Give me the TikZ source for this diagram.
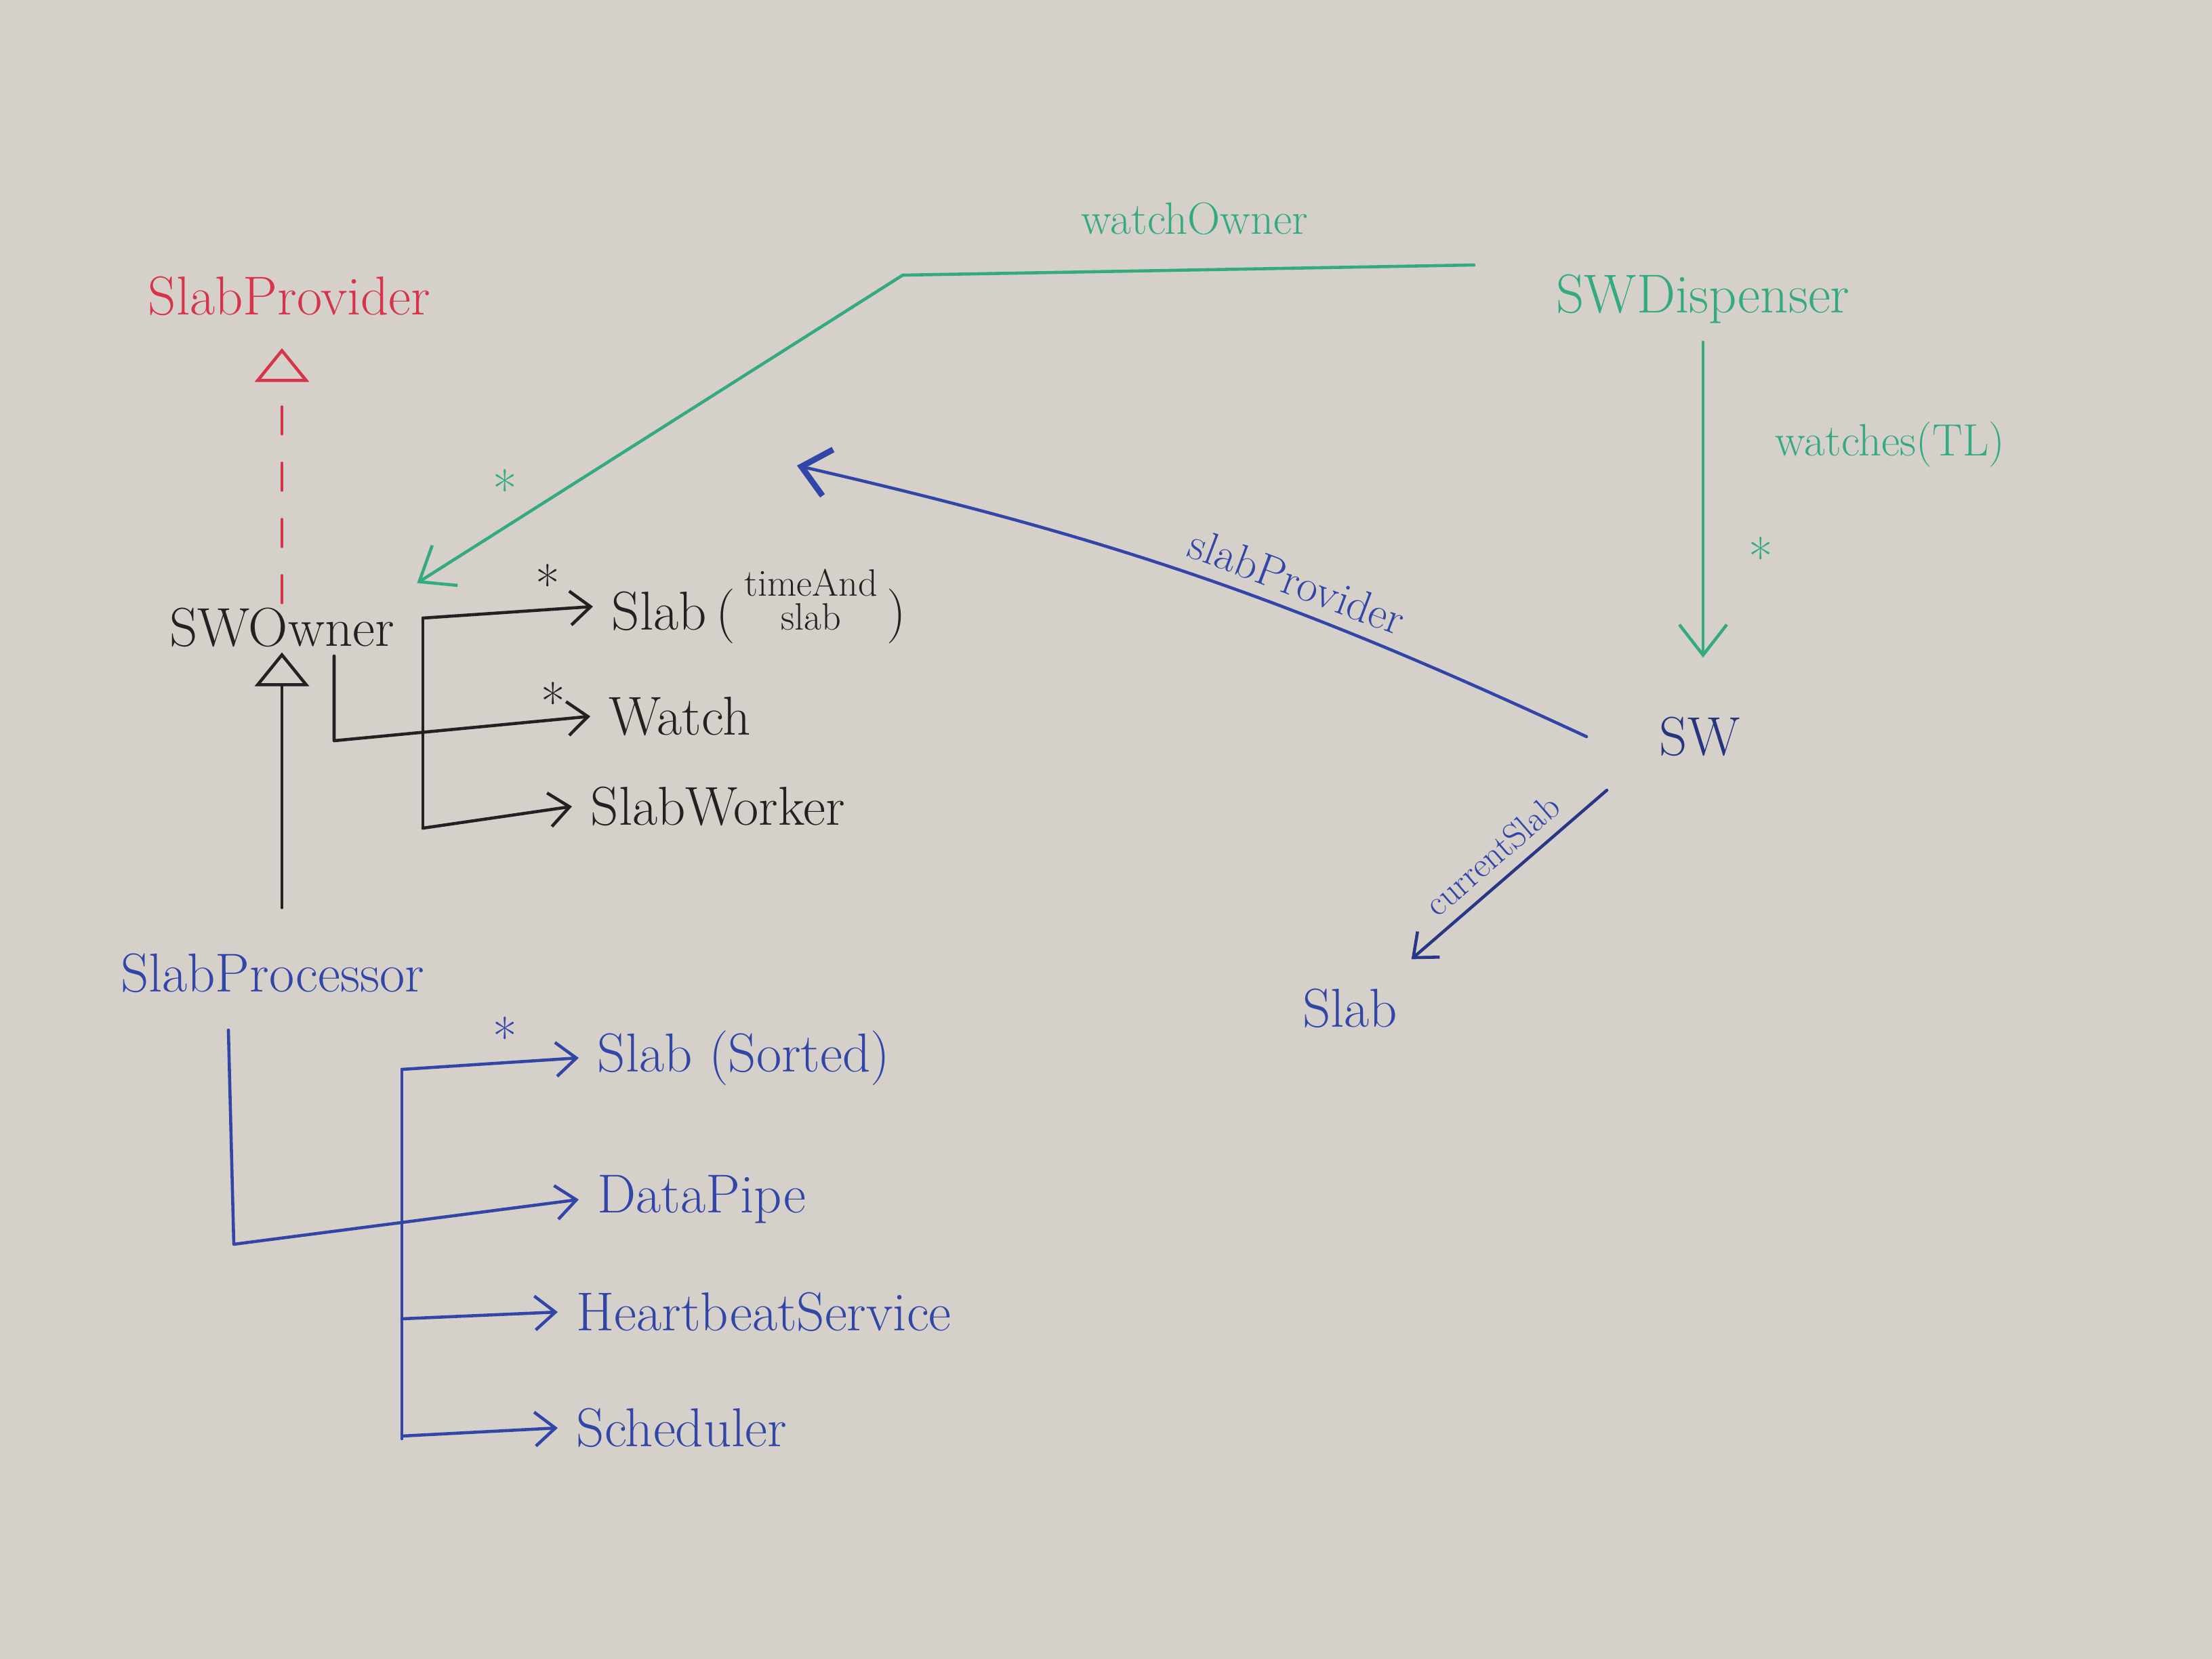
\documentclass[tikz,border=0pt]{standalone}
\usepackage{tikz}
\usetikzlibrary{arrows.meta}

\definecolor{board}{RGB}{214,208,202}
\definecolor{mgreen}{RGB}{52,170,128}
\definecolor{mred}{RGB}{214,52,74}
\definecolor{mblue}{RGB}{50,70,168}
\definecolor{mblack}{RGB}{34,34,34}

\tikzset{
  lbl/.style={font=\fontsize{23}{26}\selectfont, inner sep=2pt},
  midlbl/.style={font=\fontsize{19}{21}\selectfont, inner sep=2pt},
  smalllbl/.style={font=\fontsize{15}{17}\selectfont, inner sep=2pt},
  starmark/.style={font=\fontsize{22}{22}\selectfont, inner sep=0pt},
  pen/.style={line width=1.3pt, line cap=round, line join=round},
  barb/.style={-{Straight Barb[length=3mm,width=5mm]}},
  bigbarb/.style={-{Straight Barb[length=4.5mm,width=7mm]}},
  opentri/.style={-{Triangle[open,length=5mm,width=8mm]}}
}

\begin{document}
\begin{tikzpicture}
	\fill[board] (0,0) rectangle (32.64,-24.48);
	\useasboundingbox (0,0) rectangle (32.64,-24.48);

	% classes
	\node[lbl,mred] (prov) at (4.27,-4.37) {SlabProvider};
	\node[lbl,mblack] (own) at (4.16,-9.26) {SWOwner};
	\node[lbl,mblue] (proc) at (4.02,-14.36) {SlabProcessor};
	\node[lbl,mgreen] (disp) at (25.13,-4.41) {SWDispenser};
	\node[lbl,mblue!75!black] (sw) at (25.08,-10.87) {SW};
	\node[lbl,mblue] (slabB) at (19.92,-14.88) {Slab};

	% parts of SWOwner
	\node[lbl,mblack,anchor=west] (slabT) at (8.95,-8.95)
		{Slab\,(\,{\fontsize{16}{17}\selectfont\shortstack{timeAnd\\slab}}\,)};
	\node[lbl,mblack,anchor=west] (watch) at (8.91,-10.57) {Watch};
	\node[lbl,mblack,anchor=west] (worker) at (8.64,-11.90) {SlabWorker};

	% parts of SlabProcessor
	\node[lbl,mblue,anchor=west] (sorted) at (8.74,-15.61) {Slab (Sorted)};
	\node[lbl,mblue,anchor=west] (pipe) at (8.74,-17.70) {DataPipe};
	\node[lbl,mblue,anchor=west] (beat) at (8.43,-19.36) {HeartbeatService};
	\node[lbl,mblue,anchor=west] (sched) at (8.43,-21.07) {Scheduler};

	% inheritance
	\draw[pen,mred,opentri,dash pattern=on 4mm off 4.3mm]
		(own.north) -- ([yshift=-4mm]prov.south -| own.north);
	\draw[pen,mblack,opentri] ([yshift=6mm]proc.north -| own.south) -- (own.south);

	% SWOwner tree
	\coordinate (bT) at (6.24,-9.12);
	\coordinate (bB) at (6.24,-12.22);
	\draw[pen,mblack] (bT) -- (bB);
	\draw[pen,mblack,barb] (bT) -- ([xshift=-2mm]slabT.west);
	\draw[pen,mblack,barb] (4.93,-9.68) -- (4.93,-10.93) -- ([xshift=-2mm]watch.west);
	\draw[pen,mblack,barb] (bB) -- ([xshift=-2mm]worker.west);
	\node[starmark,mblack] (st1) at (8.08,-8.62) {*};
	\node[starmark,mblack] (st2) at (8.16,-10.36) {*};

	% SlabProcessor tree
	\coordinate (pT) at (5.93,-15.78);
	\coordinate (pB) at (5.93,-21.23);
	\draw[pen,mblue] (pT) -- (pB);
	\draw[pen,mblue,barb] (3.37,-15.20) -- (3.45,-18.36) -- ([xshift=-2mm]pipe.west);
	\foreach \n/\y in {sorted/-15.78,beat/-19.46,sched/-21.19}
		\draw[pen,mblue,barb] (5.93,\y) -- ([xshift=-2mm]\n.west);
	\node[starmark,mblue] (st3) at (7.45,-15.30) {*};

	% watchOwner
	\coordinate (wo1) at (21.75,-3.91);
	\coordinate (wo2) at (13.32,-4.06);
	\draw[pen,mgreen,bigbarb] (wo1) -- (wo2) -- ([shift={(2.6mm,2.9mm)}]own.north east);
	\node[midlbl,mgreen] (woLbl) at (17.63,-3.23) {watchOwner};
	\node[starmark,mgreen] (st4) at (7.45,-7.22) {*};

	% watches
	\draw[pen,mgreen,bigbarb,shorten <=2mm,shorten >=8mm] (disp.south) -- (disp.south |- sw.north);
	\node[midlbl,mgreen] (wLbl) at (27.89,-6.56) {watches(TL)};
	\node[starmark,mgreen] (st5) at (25.98,-8.22) {*};

	% slabProvider
	\coordinate (spTip) at (11.76,-6.87);
	\draw[pen,mblue,{Straight Barb[length=4mm,width=7mm,line width=2.5pt]}-]
		(spTip) to[bend left=6]
		node[midlbl,sloped,above=1mm,pos=0.62] (spLbl) {slabProvider}
		([xshift=-10mm]sw.west);

	% currentSlab
	\draw[pen,mblue!80!black,{Straight Barb[length=3mm,width=5mm]}-]
		([shift={(1.3mm,3.6mm)}]slabB.north east) --
		node[smalllbl,mblue,sloped,above=1mm] (csLbl) {currentSlab}
		([shift={(-7mm,-7.9mm)}]sw.west);
\end{tikzpicture}
\end{document}
